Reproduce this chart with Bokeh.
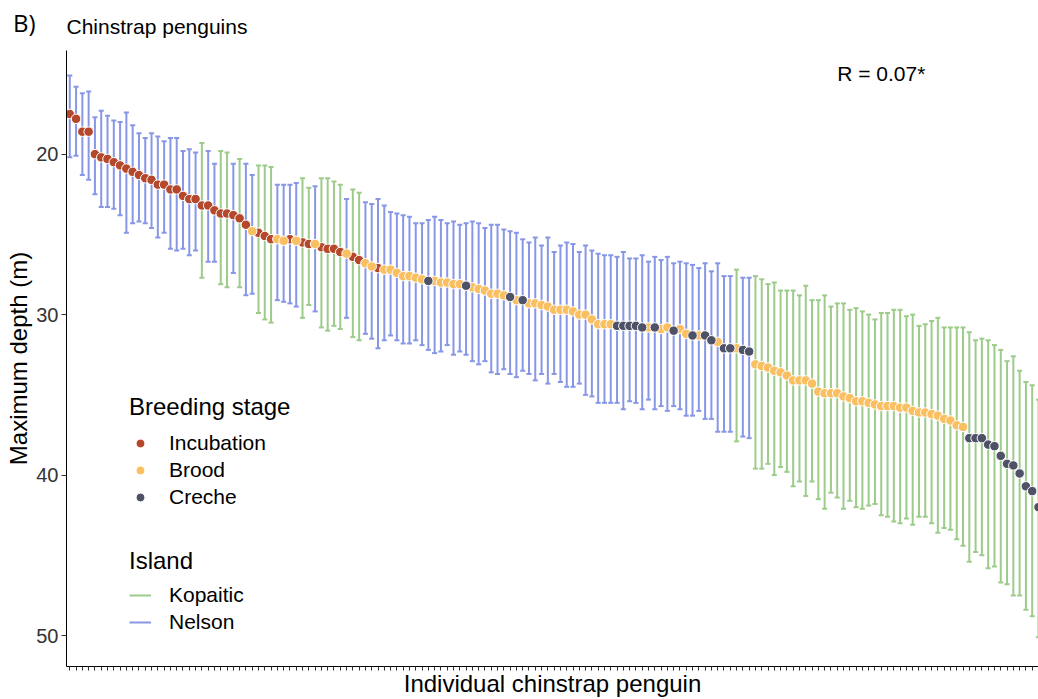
from bokeh.plotting import figure
from bokeh.layouts import column
from bokeh.models import ColumnDataSource, Range1d, FixedTicker, Legend, LegendItem, Label
from bokeh.core.properties import value
from bokeh.embed import file_html
from bokeh.resources import INLINE

# ---- data ----
# mean maximum depth (m) of each individual, ordered as in the chart
mean_depth = [
    17.5, 17.8, 18.6, 18.6, 20.0, 20.2, 20.3, 20.5, 20.7, 20.9,
    21.1, 21.3, 21.5, 21.6, 21.9, 21.9, 22.2, 22.2, 22.6, 22.8,
    22.8, 23.2, 23.2, 23.5, 23.7, 23.7, 23.8, 24.0, 24.4, 24.8,
    24.9, 25.1, 25.3, 25.3, 25.4, 25.3, 25.4, 25.5, 25.6, 25.6,
    25.8, 25.9, 25.9, 26.1, 26.2, 26.4, 26.6, 26.8, 27.0, 27.1,
    27.2, 27.2, 27.4, 27.6, 27.6, 27.7, 27.8, 27.9, 27.9, 28.0,
    28.0, 28.1, 28.1, 28.2, 28.3, 28.4, 28.5, 28.7, 28.7, 28.8,
    28.9, 29.1, 29.1, 29.3, 29.3, 29.4, 29.5, 29.7, 29.7, 29.7,
    29.8, 30.0, 30.0, 30.3, 30.6, 30.6, 30.6, 30.7, 30.7, 30.7,
    30.7, 30.8, 30.8, 30.8, 30.9, 30.8, 31.0, 30.9, 31.2, 31.3,
    31.3, 31.3, 31.6, 31.7, 32.1, 32.1, 32.1, 32.2, 32.3, 33.1,
    33.2, 33.3, 33.5, 33.6, 33.8, 34.1, 34.1, 34.1, 34.3, 34.8,
    34.9, 34.9, 34.9, 35.1, 35.2, 35.4, 35.4, 35.5, 35.6, 35.7,
    35.7, 35.7, 35.8, 35.8, 36.0, 36.1, 36.1, 36.2, 36.3, 36.5,
    36.6, 36.9, 37.0, 37.7, 37.7, 37.7, 38.1, 38.2, 38.8, 39.3,
    39.4, 39.9, 40.7, 41.0, 42.0,
]
# shallow end of each error bar (m)
bar_top = [
    15.1, 15.8, 16.2, 16.1, 17.7, 17.3, 17.6, 17.9, 18.0, 17.4,
    18.2, 18.7, 19.0, 18.7, 18.9, 19.2, 19.0, 19.0, 19.8, 19.7,
    19.9, 19.3, 19.8, 20.6, 19.8, 19.9, 20.6, 20.3, 20.6, 21.3,
    20.7, 20.7, 20.8, 21.9, 21.9, 21.9, 21.8, 21.5, 22.1, 22.0,
    21.5, 21.5, 21.7, 21.9, 22.8, 22.2, 22.4, 23.0, 23.1, 22.8,
    23.2, 23.6, 23.7, 23.8, 23.9, 24.3, 24.3, 24.1, 23.9, 24.1,
    24.3, 24.2, 24.4, 24.3, 24.2, 24.3, 24.6, 24.4, 24.4, 24.7,
    24.8, 24.9, 25.3, 25.5, 25.2, 25.7, 25.2, 26.1, 25.7, 25.5,
    25.6, 26.1, 25.7, 26.0, 26.2, 26.3, 26.3, 26.4, 26.1, 26.5,
    26.5, 26.3, 26.7, 26.4, 26.6, 26.4, 26.8, 26.7, 26.8, 26.9,
    27.1, 26.8, 27.3, 26.8, 27.6, 27.6, 27.2, 27.7, 27.7, 27.6,
    27.8, 28.1, 28.0, 28.5, 28.5, 28.5, 28.8, 28.2, 29.1, 29.1,
    28.8, 29.5, 29.3, 29.3, 29.7, 29.6, 29.8, 30.0, 30.3, 29.9,
    29.9, 29.7, 29.7, 30.1, 30.0, 30.7, 30.6, 30.4, 30.2, 30.8,
    30.8, 30.8, 30.8, 31.1, 31.6, 31.5, 31.6, 31.9, 32.2, 32.9,
    32.6, 33.5, 34.2, 34.4, 35.3,
]
# deep end of each error bar (m)
bar_bottom = [
    20.2, 20.1, 21.3, 21.6, 22.5, 23.3, 23.3, 23.4, 23.8, 24.9,
    24.3, 24.2, 24.3, 24.6, 25.2, 24.9, 25.9, 26.0, 25.9, 26.3,
    26.0, 27.7, 26.7, 26.7, 28.1, 28.3, 27.4, 28.3, 28.8, 28.7,
    29.9, 30.3, 30.5, 29.1, 29.2, 29.3, 29.5, 30.2, 29.4, 29.8,
    30.8, 31.0, 30.7, 30.9, 30.2, 31.4, 31.6, 31.2, 31.5, 32.1,
    31.6, 31.3, 31.6, 31.8, 31.8, 31.6, 31.9, 32.2, 32.4, 32.3,
    31.9, 32.5, 32.3, 32.5, 32.9, 33.1, 32.9, 33.6, 33.7, 33.4,
    33.7, 33.9, 33.5, 33.7, 34.1, 33.7, 34.3, 33.7, 34.2, 34.5,
    34.5, 34.3, 35.0, 35.1, 35.5, 35.5, 35.5, 35.5, 35.9, 35.4,
    35.5, 35.9, 35.3, 35.9, 35.7, 36.0, 35.7, 35.9, 36.3, 36.3,
    36.0, 36.5, 36.5, 37.3, 37.3, 37.3, 37.9, 37.6, 37.7, 39.6,
    39.6, 39.3, 40.0, 39.5, 39.8, 40.7, 40.4, 41.3, 40.4, 41.5,
    42.1, 41.1, 41.4, 42.1, 41.6, 42.0, 42.1, 41.9, 41.8, 42.5,
    42.6, 42.9, 43.0, 42.7, 43.1, 42.6, 42.6, 43.0, 43.6, 43.3,
    43.4, 44.0, 44.4, 45.4, 44.8, 45.0, 45.8, 45.7, 46.7, 46.8,
    47.5, 47.5, 48.4, 48.8, 50.1,
]
# breeding stage of consecutive individuals (run lengths)
stage_runs = [
    ("Incubation", 29), ("Brood", 1), ("Incubation", 3), ("Brood", 2), ("Incubation", 1),
    ("Brood", 1), ("Incubation", 2), ("Brood", 1), ("Incubation", 4), ("Brood", 1),
    ("Incubation", 2), ("Brood", 2), ("Incubation", 1), ("Brood", 7), ("Creche", 1),
    ("Brood", 5), ("Creche", 1), ("Brood", 6), ("Creche", 1), ("Brood", 1),
    ("Creche", 1), ("Brood", 14), ("Creche", 5), ("Brood", 1), ("Creche", 1),
    ("Brood", 2), ("Creche", 1), ("Brood", 2), ("Creche", 1), ("Brood", 1),
    ("Creche", 2), ("Brood", 1), ("Creche", 2), ("Brood", 1), ("Creche", 2),
    ("Brood", 34), ("Creche", 12),
]
# island of consecutive individuals (run lengths)
island_runs = [
    ("Nelson", 21), ("Kopaitic", 1), ("Nelson", 2), ("Kopaitic", 2), ("Nelson", 1),
    ("Kopaitic", 1), ("Nelson", 2), ("Kopaitic", 3), ("Nelson", 4), ("Kopaitic", 2),
    ("Nelson", 1), ("Kopaitic", 4), ("Nelson", 1), ("Kopaitic", 2), ("Nelson", 59),
    ("Kopaitic", 1), ("Nelson", 2), ("Kopaitic", 46),
]
stage_names = ["Incubation", "Brood", "Creche"]
island_names = ["Kopaitic", "Nelson"]
y_ticks = [20, 30, 40, 50]
stage_colors = {"Incubation": "#B5482B", "Brood": "#F9BF60", "Creche": "#4F5266"}
island_colors = {"Kopaitic": "#9CCB8A", "Nelson": "#8797E6"}

stage = [s for s, n in stage_runs for _ in range(n)]
island = [s for s, n in island_runs for _ in range(n)]
xpos = list(range(1, len(mean_depth) + 1))

FONT = "Liberation Sans"

# ---- header strip (panel letter and title); its frame aligns with the main frame ----
header = figure(width=1038, height=50, output_backend="svg", toolbar_location=None,
                x_range=Range1d(66, 1038), y_range=Range1d(50, 0),
                x_axis_location=None, y_axis_location="left", min_border=0)
header.outline_line_color = None
header.grid.visible = False
header.yaxis.ticker = FixedTicker(ticks=[22])
header.yaxis.major_label_overrides = {22: "B)"}
header.yaxis.axis_line_color = None
header.yaxis.major_tick_line_color = None
header.yaxis.minor_tick_line_color = None
header.yaxis.major_tick_out = 0
header.yaxis.major_tick_in = 0
header.yaxis.major_label_standoff = 31
header.yaxis.major_label_text_font = "Open Sans"
header.yaxis.major_label_text_font_size = "24px"
header.yaxis.major_label_text_color = "black"
header.text(x=[66], y=[26], text=["Chinstrap penguins"], text_font=value(FONT),
            text_font_size="21px", text_align="left", text_baseline="middle",
            text_color="black")

# ---- main figure ----
p = figure(width=1038, height=649, output_backend="svg", toolbar_location=None,
           x_range=Range1d(0.48, 155.0), y_range=Range1d(51.93, 13.54),
           min_border_left=66, min_border_right=0, min_border_top=0, min_border_bottom=31)
p.outline_line_color = None
p.grid.visible = False
p.background_fill_color = "white"
p.border_fill_color = "white"

# error bars per island
bar_renderers = {}
for isl in island_names:
    idx = [i for i in range(len(xpos)) if island[i] == isl]
    src = ColumnDataSource(dict(
        x=[xpos[i] for i in idx],
        top=[bar_top[i] for i in idx],
        bot=[bar_bottom[i] for i in idx],
        xl=[xpos[i] - 0.4 for i in idx],
        xr=[xpos[i] + 0.4 for i in idx],
    ))
    col = island_colors[isl]
    r = p.segment(x0="x", y0="top", x1="x", y1="bot", source=src, line_color=col, line_width=2)
    p.segment(x0="xl", y0="top", x1="xr", y1="top", source=src, line_color=col, line_width=2)
    p.segment(x0="xl", y0="bot", x1="xr", y1="bot", source=src, line_color=col, line_width=2)
    bar_renderers[isl] = r

# points per stage
pt_renderers = {}
for st in stage_names:
    idx = [i for i in range(len(xpos)) if stage[i] == st]
    src = ColumnDataSource(dict(x=[xpos[i] for i in idx], y=[mean_depth[i] for i in idx]))
    r = p.scatter(x="x", y="y", source=src, size=9.5, fill_color=stage_colors[st],
                  line_color="white", line_width=1)
    pt_renderers[st] = r

# axes
p.yaxis.ticker = FixedTicker(ticks=y_ticks)
p.yaxis.minor_tick_line_color = None
p.yaxis.major_tick_out = 5
p.yaxis.major_tick_in = 0
p.yaxis.major_label_standoff = 3
p.yaxis.major_label_text_font = FONT
p.yaxis.major_label_text_font_size = "20px"
p.yaxis.major_label_text_color = "#333333"
p.yaxis.axis_line_color = "black"
p.yaxis.major_tick_line_color = "#333333"
p.yaxis.axis_label = "Maximum depth (m)"
p.yaxis.axis_label_text_font = FONT
p.yaxis.axis_label_text_font_size = "24px"
p.yaxis.axis_label_text_font_style = "normal"
p.yaxis.axis_label_text_color = "black"
p.yaxis.axis_label_standoff = 1

p.xaxis.ticker = FixedTicker(ticks=xpos)
p.xaxis.major_label_overrides = {i: "" for i in xpos}
p.xaxis.major_label_text_font_size = "0px"
p.xaxis.major_label_standoff = 0
p.xaxis.minor_tick_line_color = None
p.xaxis.major_tick_out = 4
p.xaxis.major_tick_in = 0
p.xaxis.major_tick_line_color = "#333333"
p.xaxis.axis_line_color = "black"
p.xaxis.axis_label = "Individual chinstrap penguin"
p.xaxis.axis_label_text_font = FONT
p.xaxis.axis_label_text_font_size = "24px"
p.xaxis.axis_label_text_font_style = "normal"
p.xaxis.axis_label_text_color = "black"
p.xaxis.axis_label_standoff = -1

p.add_layout(Label(x=130, y=15.0, text="R = 0.07*", text_font=FONT,
                   text_font_size="21px", text_align="center", text_baseline="middle",
                   text_color="black"))

# legends
def style_legend(lg, standoff):
    lg.title_text_font = FONT
    lg.title_text_font_size = "24px"
    lg.title_text_font_style = "normal"
    lg.title_text_color = "black"
    lg.label_text_font = FONT
    lg.label_text_font_size = "21px"
    lg.label_text_color = "black"
    lg.glyph_width = 22
    lg.glyph_height = 24
    lg.label_height = 24
    lg.label_standoff = 18
    lg.spacing = 3
    lg.padding = 0
    lg.margin = 0
    lg.border_line_color = None
    lg.background_fill_alpha = 0
    lg.title_standoff = standoff

leg1 = Legend(items=[LegendItem(label=s, renderers=[pt_renderers[s]]) for s in stage_names],
              title="Breeding stage", location=(63, 157))
style_legend(leg1, 10)
leg2 = Legend(items=[LegendItem(label=s, renderers=[bar_renderers[s]]) for s in island_names],
              title="Island", location=(63, 32))
style_legend(leg2, 8)
p.add_layout(leg1)
p.add_layout(leg2)

layout = column(header, p, spacing=0)
open("out.html", "w").write(file_html(layout, INLINE))
